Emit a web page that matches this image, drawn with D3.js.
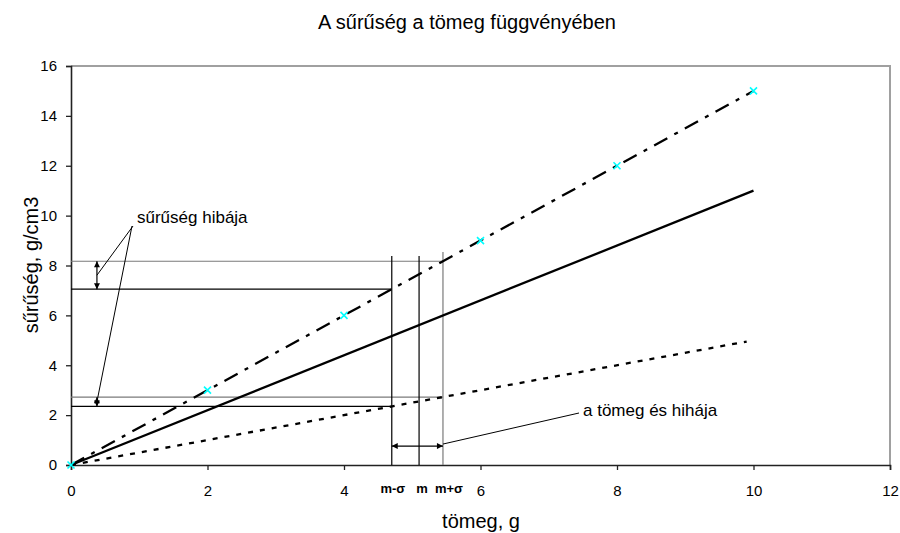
<!DOCTYPE html>
<html><head><meta charset="utf-8">
<script src="https://cdn.jsdelivr.net/npm/d3@7"></script>
<style>body{margin:0;background:#fff}text{font-family:"Liberation Sans",Arial,sans-serif}</style>
</head><body><svg id="c" width="900" height="533"></svg>
<script>
const title = "A sűrűség a tömeg függvényében";
const xTitle = "tömeg, g";
const yTitle = "sűrűség, g/cm3";
const xTicks = [0, 2, 4, 6, 8, 10, 12];
const yTicks = [0, 2, 4, 6, 8, 10, 12, 14, 16];
const measMass = [0, 2, 4, 6, 8, 10];
const measDensity = [0, 3, 6, 9, 12, 15];
const lineUpper = [[0, 0], [10, 15]];
const lineMid = [[0, 0], [10, 11]];
const lineLower = [[0, 0], [9.9, 4.95]];
const massMarks = [4.7, 5.1, 5.45];
const massLabels = ["m-σ", "m", "m+σ"];
const massTops = [8.38, 8.38, 8.54];
const densUpper = [7.05, 8.17];
const densLower = [2.35, 2.72];
const noteDensity = "sűrűség hibája";
const noteMass = "a tömeg és hihája";

const svg = d3.select("#c");
const x = d3.scaleLinear().domain([0, 12]).range([71, 890]);
const y = d3.scaleLinear().domain([0, 16]).range([465, 66]);

const defs = svg.append("defs");
defs.append("marker").attr("id", "ah").attr("viewBox", "0 0 10 10").attr("refX", 10).attr("refY", 5)
  .attr("markerWidth", 7).attr("markerHeight", 6).attr("markerUnits", "userSpaceOnUse").attr("orient", "auto-start-reverse")
  .append("path").attr("d", "M0,0L10,5L0,10Z").attr("fill", "#000");

// plot frame (top/right gray)
svg.append("path").attr("d", `M${x(0)},${y(16)}H${x(12)}V${y(0)}`).attr("fill", "none").attr("stroke", "#a0a0a0").attr("stroke-width", 2);

// axes
const xa = svg.append("g").attr("transform", `translate(0,${y(0)})`)
  .call(d3.axisBottom(x).tickValues(xTicks).tickSize(5).tickPadding(15));
const ya = svg.append("g").attr("transform", `translate(${x(0)},0)`)
  .call(d3.axisLeft(y).tickValues(yTicks).tickSize(5).tickPadding(9));
[xa, ya].forEach(a => {
  a.select(".domain").attr("stroke", "#222").attr("stroke-width", 1.6);
  a.selectAll(".tick line").attr("stroke", "#222").attr("stroke-width", 1.3);
  a.selectAll(".tick text").attr("font-size", 15).attr("font-family", "Liberation Sans, Arial, sans-serif").attr("fill", "#000");
});

// error guide lines
const hl = (v, xe, col) => svg.append("line").attr("x1", x(0)).attr("x2", x(xe)).attr("y1", y(v)).attr("y2", y(v))
  .attr("stroke", col).attr("stroke-width", 1.2);
hl(densUpper[1], massMarks[2], "#7a7a7a");
hl(densUpper[0], massMarks[0], "#000");
hl(densLower[1], massMarks[2], "#7a7a7a");
hl(densLower[0], massMarks[0], "#000");
massMarks.forEach((m, i) => {
  svg.append("line").attr("x1", x(m)).attr("x2", x(m)).attr("y1", y(0)).attr("y2", y(massTops[i]))
    .attr("stroke", i === 2 ? "#7a7a7a" : "#000").attr("stroke-width", 1.2);
});

// series lines
const lg = d3.line().x(d => x(d[0])).y(d => y(d[1]));
svg.append("path").attr("d", lg(lineMid)).attr("fill", "none").attr("stroke", "#000").attr("stroke-width", 2.3);
svg.append("path").attr("d", lg(lineUpper)).attr("fill", "none").attr("stroke", "#000").attr("stroke-width", 2.3)
  .attr("stroke-dasharray", "15,8,4,8");
svg.append("path").attr("d", lg(lineLower)).attr("fill", "none").attr("stroke", "#000").attr("stroke-width", 2.3)
  .attr("stroke-dasharray", "5,7");

// markers
const s = 3.5;
svg.append("g").selectAll("path").data(measMass.map((m, i) => [m, measDensity[i]])).join("path")
  .attr("d", d => `M${x(d[0]) - s},${y(d[1]) - s}L${x(d[0]) + s},${y(d[1]) + s}M${x(d[0]) - s},${y(d[1]) + s}L${x(d[0]) + s},${y(d[1]) - s}`)
  .attr("stroke", "#00ffff").attr("stroke-width", 1.6).attr("fill", "none");

// double arrows
const arrowX = 0.38;
const dbl = (x1, y1, x2, y2) => svg.append("line").attr("x1", x1).attr("y1", y1).attr("x2", x2).attr("y2", y2)
  .attr("stroke", "#000").attr("stroke-width", 1.2).attr("marker-start", "url(#ah)").attr("marker-end", "url(#ah)");
dbl(x(arrowX), y(densUpper[1]), x(arrowX), y(densUpper[0]));
dbl(x(arrowX), y(densLower[1]), x(arrowX), y(densLower[0]));
dbl(x(massMarks[0]), y(0.76), x(massMarks[2]), y(0.76));

// leader lines & notes
const nx = 133, ny = 226;
svg.append("line").attr("x1", nx).attr("y1", ny).attr("x2", x(arrowX)).attr("y2", (y(densUpper[0]) + y(densUpper[1])) / 2).attr("stroke", "#000").attr("stroke-width", 1);
svg.append("line").attr("x1", nx - 1).attr("y1", ny).attr("x2", x(arrowX)).attr("y2", (y(densLower[0]) + y(densLower[1])) / 2).attr("stroke", "#000").attr("stroke-width", 1);
svg.append("text").attr("x", 137).attr("y", 223).attr("font-size", 17).text(noteDensity);
svg.append("line").attr("x1", 579).attr("y1", 413).attr("x2", x(massMarks[2])).attr("y2", y(0.76) - 2).attr("stroke", "#000").attr("stroke-width", 1);
svg.append("text").attr("x", 583).attr("y", 416).attr("font-size", 17).text(noteMass);

// mass labels
const lblDx = [1, 3, 6];
svg.append("g").selectAll("text").data(massLabels).join("text")
  .attr("x", (d, i) => x(massMarks[i]) + lblDx[i]).attr("y", 493).attr("text-anchor", "middle")
  .attr("font-size", 13).attr("font-weight", "bold").text(d => d);

// titles
svg.append("text").attr("x", 467).attr("y", 29).attr("text-anchor", "middle").attr("font-size", 20).text(title);
svg.append("text").attr("x", 481).attr("y", 528).attr("text-anchor", "middle").attr("font-size", 20).text(xTitle);
svg.append("text").attr("transform", "translate(38,265) rotate(-90)").attr("text-anchor", "middle").attr("font-size", 20).text(yTitle);
</script></body></html>
